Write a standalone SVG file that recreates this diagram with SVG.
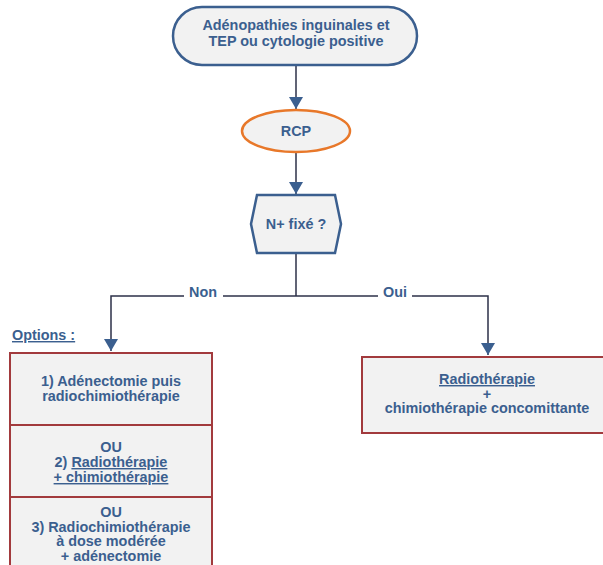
<svg xmlns="http://www.w3.org/2000/svg" width="603" height="565" viewBox="0 0 603 565">
  <style>
    .t { font-family: "Liberation Sans", Arial, sans-serif; font-weight: bold; font-size: 14.4px; fill: #3b5f8f; text-anchor: middle; }
    .u { text-decoration: underline; }
    .blue { fill: #f2f2f2; stroke: #3b5f8f; stroke-width: 2.5; }
    .orange { fill: #f2f2f2; stroke: #e8782a; stroke-width: 2.5; }
    .red { fill: #f2f2f2; stroke: #a23a3d; stroke-width: 2; }
    .wire { fill: none; stroke: #2c3148; stroke-width: 1.5; }
  </style>
  <defs>
    <marker id="arr" viewBox="0 0 12 14" refX="12" refY="7" markerWidth="12" markerHeight="14" markerUnits="userSpaceOnUse" orient="auto">
      <path d="M0,0 L12,7 L0,14 Z" fill="#3b5f8f"/>
    </marker>
  </defs>

  <rect width="603" height="565" fill="#ffffff"/>

  <g id="connectors">
    <path class="wire" d="M296,66 V109" marker-end="url(#arr)"/>
    <path class="wire" d="M296,152 V194" marker-end="url(#arr)"/>
    <path class="wire" d="M296,254 V296"/>
    <path class="wire" d="M296,296 H223"/>
    <path class="wire" d="M184,296 H111 V351" marker-end="url(#arr)"/>
    <path class="wire" d="M296,296 H378"/>
    <path class="wire" d="M412,296 H488 V355" marker-end="url(#arr)"/>
    <text class="t" x="203" y="297">Non</text>
    <text class="t" x="395" y="297">Oui</text>
  </g>

  <g id="start">
    <rect class="blue" x="173" y="7" width="244" height="58" rx="29" ry="29"/>
    <text class="t" x="296" y="30">Adénopathies inguinales et</text>
    <text class="t" x="296" y="46">TEP ou cytologie positive</text>
  </g>

  <g id="rcp">
    <ellipse class="orange" cx="296" cy="131" rx="54" ry="21"/>
    <text class="t" x="296" y="136">RCP</text>
  </g>

  <g id="decision">
    <polygon class="blue" points="257,195 335,195 341,224 335,253 257,253 251,224"/>
    <text class="t" x="296" y="229">N+ fixé ?</text>
  </g>

  <g id="options-label">
    <text class="t u" x="12" y="340" style="text-anchor:start">Options :</text>
  </g>

  <g id="option1">
    <rect class="red" x="10" y="353" width="202" height="72"/>
    <text class="t" x="111" y="386">1) Adénectomie puis</text>
    <text class="t" x="111" y="401">radiochimiothérapie</text>
  </g>

  <g id="option2">
    <rect class="red" x="10" y="425" width="202" height="72"/>
    <text class="t" x="111" y="452">OU</text>
    <text class="t" x="111" y="467">2) <tspan class="u">Radiothérapie</tspan></text>
    <text class="t u" x="111" y="482">+ chimiothérapie</text>
  </g>

  <g id="option3">
    <rect class="red" x="10" y="497" width="202" height="80"/>
    <text class="t" x="111" y="517">OU</text>
    <text class="t" x="111" y="532">3) Radiochimiothérapie</text>
    <text class="t" x="111" y="546">à dose modérée</text>
    <text class="t" x="111" y="561">+ adénectomie</text>
  </g>

  <g id="treatment">
    <rect class="red" x="362" y="357" width="252" height="76"/>
    <text class="t u" x="487" y="384">Radiothérapie</text>
    <text class="t" x="487" y="399">+</text>
    <text class="t" x="487" y="413">chimiothérapie concomittante</text>
  </g>
</svg>
